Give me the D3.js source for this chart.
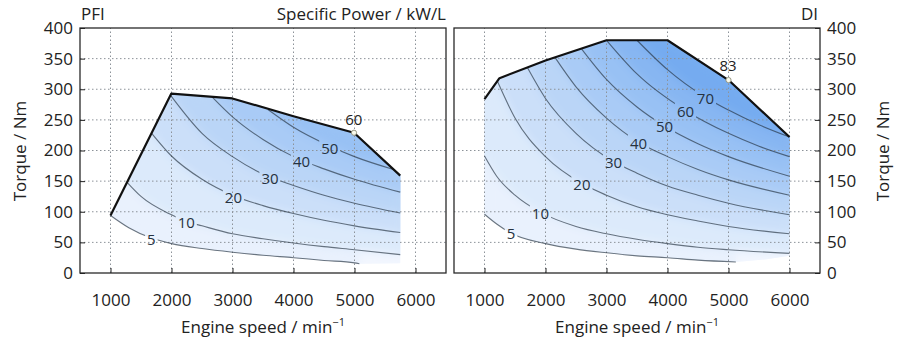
<!DOCTYPE html>
<html>
<head>
<meta charset="utf-8">
<script src="https://cdn.jsdelivr.net/npm/d3@7"></script>
<style>
  body { margin: 0; background: #fff; }
  svg text { font-family: "Open Sans", sans-serif; }
</style>
</head>
<body>
<svg id="chart" width="903" height="344"></svg>
<script>
// shared ticks
const speedTicks = [1000, 2000, 3000, 4000, 5000, 6000];
const torqueTicks = [0, 50, 100, 150, 200, 250, 300, 350, 400];

// PFI: full load curve, lower edge of the map, iso-power lines (kW/L)
const pfiFullLoad = [[1000, 94], [1997, 293], [2998, 285], [4000, 256], [4992, 229], [5750, 159]];
const pfiLowEdge = [[5750, 16]];
const pfiLevels = [5, 10, 20, 30, 40, 50];
const pfiContours = [
  [[1000, 94], [1300, 74], [1670, 57], [2000, 48], [2500, 40], [3000, 34], [3500, 29], [4000, 25], [4500, 20.5], [5000, 16.5], [5080, 15]],
  [[1272, 148], [1500, 125], [2000, 95], [2250, 84], [2500, 77], [3000, 64], [3500, 56], [4000, 49], [4500, 43], [5000, 38], [5750, 30]],
  [[1675, 228], [2000, 191], [2500, 153], [3000, 127], [3500, 110], [4000, 97], [4500, 86], [5000, 77], [5750, 66]],
  [[1985, 290], [2500, 228], [3000, 190], [3600, 157], [4000, 143], [4500, 127], [5000, 114], [5750, 98]],
  [[2660, 288], [3000, 255], [3500, 218], [4000, 190], [4500, 170], [5000, 153], [5750, 132]],
  [[3580, 267], [4000, 238], [4600, 207], [5000, 190], [5640, 169]]
];
const pfiLabelPos = [[1670, 55], [2242, 82], [3015, 123], [3614, 154], [4132, 181], [4595, 203]];
const pfiPeak = [4992, 229, 60];
const pfiPeakLabel = [4987, 251];

// DI
const diFullLoad = [[1000, 284], [1245, 318], [2000, 347], [3000, 380], [4000, 380], [5000, 315], [6000, 222]];
const diLowEdge = [[5600, 22], [6000, 28]];
const diLevels = [5, 10, 20, 30, 40, 50, 60, 70];
const diContours = [
  [[1000, 96], [1200, 80], [1435, 65], [2000, 48], [2500, 39], [3000, 33], [3500, 28], [4000, 25], [4500, 21], [5120, 18]],
  [[1000, 191], [1200, 158], [1500, 127], [1920, 99], [2500, 76], [3000, 64], [3500, 55], [4000, 48], [4500, 42], [5000, 38], [6000, 32]],
  [[1212, 313], [1500, 253], [2000, 190], [2600, 146], [3000, 127], [3500, 108], [4000, 95], [4500, 85], [5000, 76], [6000, 64]],
  [[1705, 335], [2000, 285], [2500, 228], [3115, 182], [3500, 163], [4000, 142], [4500, 127], [5000, 114], [6000, 95]],
  [[2155, 352], [2500, 304], [3000, 253], [3520, 214], [4000, 190], [4500, 169], [5000, 152], [6000, 127]],
  [[2590, 366], [3000, 316], [3500, 271], [3950, 240], [4500, 211], [5000, 190], [6000, 158]],
  [[3000, 380], [3500, 325], [4300, 265], [5000, 228], [5500, 207], [6000, 190]],
  [[3500, 380], [4000, 332], [4620, 287], [5000, 266], [5500, 242], [6000, 222]]
];
const diLabelPos = [[1435, 64.5], [1917, 97], [2597, 143.5], [3116, 180], [3525, 211.6], [3951, 238.7], [4295, 263.2], [4622, 285.1]];
const diPeak = [5000, 315, 83];
const diPeakLabel = [4993, 338];

const svg = d3.select('#chart');
const defs = svg.append('defs');
const yRange = [273, 28];
const color = d3.scaleLinear().domain([0, 85]).range(['#f6f9fe', '#65a2ee']);

// soft blur used to smooth the steps between colour bands
defs.append('filter').attr('id', 'soft').attr('x', '-10%').attr('y', '-10%').attr('width', '120%').attr('height', '120%')
  .append('feGaussianBlur').attr('stdDeviation', 5);

function drawPanel(p) {
  const x = d3.scaleLinear().domain([500, 6500]).range(p.xRange);
  const y = d3.scaleLinear().domain([0, 400]).range(yRange);
  const curve = d3.line().x(d => x(d[0])).y(d => y(d[1])).curve(d3.curveMonotoneX);
  const straight = d3.line().x(d => x(d[0])).y(d => y(d[1]));
  const pts = arr => arr.map(d => 'L' + x(d[0]) + ',' + y(d[1])).join('');
  const g = svg.append('g');

  // polygons: whole map first, then each region above an iso-power line
  const tops = p.levels.slice(1).concat([p.peak[2]]);
  const outline = curve(p.contours[0]) + pts(p.lowEdge.concat(p.fullLoad.slice().reverse())) + 'Z';
  const bands = [{ d: outline, v: p.levels[0] / 2 }];
  p.contours.forEach((c, i) => {
    const s = c[0][0], e = c[c.length - 1][0];
    const edge = p.fullLoad.filter(d => d[0] >= s && d[0] <= e).reverse();
    bands.push({ d: curve(c) + pts(edge) + 'Z', v: (p.levels[i] + tops[i]) / 2 });
  });

  defs.append('clipPath').attr('id', 'map-' + p.name).append('path').attr('d', outline);

  // sharp bands, then a blurred copy clipped to the map on top
  g.append('g').selectAll('path').data(bands).join('path')
    .attr('d', d => d.d).attr('fill', d => color(d.v));
  g.append('g').attr('clip-path', 'url(#map-' + p.name + ')')
    .append('g').attr('filter', 'url(#soft)')
    .selectAll('path').data(bands).join('path')
    .attr('d', d => d.d).attr('fill', d => color(d.v));

  // dotted grid
  const grid = g.append('g').attr('stroke', '#8c9299').attr('stroke-width', 1).attr('stroke-dasharray', '1.5,2.5');
  grid.selectAll('.gx').data(speedTicks).join('line')
    .attr('x1', d => x(d)).attr('x2', d => x(d)).attr('y1', yRange[0]).attr('y2', yRange[1]);
  grid.selectAll('.gy').data(torqueTicks.filter(t => t > 0 && t < 400)).join('line')
    .attr('x1', p.xRange[0]).attr('x2', p.xRange[1]).attr('y1', d => y(d)).attr('y2', d => y(d));

  // contour labels, with gaps cut into the lines by a mask
  const mask = defs.append('mask').attr('id', 'gap-' + p.name)
    .attr('maskUnits', 'userSpaceOnUse').attr('x', 0).attr('y', 0).attr('width', 903).attr('height', 344);
  mask.append('rect').attr('width', 903).attr('height', 344).attr('fill', '#fff');

  const lines = g.append('g').attr('mask', 'url(#gap-' + p.name + ')');
  const labels = g.append('g').attr('font-size', 15).attr('fill', '#26323f').attr('text-anchor', 'middle');
  labels.selectAll('text').data(p.labelPos).join('text')
    .attr('x', d => x(d[0])).attr('y', d => y(d[1])).attr('dy', '0.35em')
    .text((d, i) => p.levels[i])
    .each(function () {
      const b = this.getBBox();
      mask.append('rect').attr('x', b.x - 2).attr('y', b.y + 1).attr('width', b.width + 4).attr('height', b.height - 2).attr('fill', '#000');
    });

  lines.selectAll('path').data(p.contours).join('path')
    .attr('d', curve).attr('fill', 'none')
    .attr('stroke', '#22303e').attr('stroke-opacity', 0.65).attr('stroke-width', 1.1);

  // full load line
  g.append('path').attr('d', straight(p.fullLoad)).attr('fill', 'none')
    .attr('stroke', '#111').attr('stroke-width', 2.2).attr('stroke-linejoin', 'round');

  // frame
  g.append('rect').attr('x', p.xRange[0]).attr('y', yRange[1])
    .attr('width', p.xRange[1] - p.xRange[0]).attr('height', yRange[0] - yRange[1])
    .attr('fill', 'none').attr('stroke', '#2a2a2a').attr('stroke-width', 1.3);

  // rated power point
  g.append('circle').attr('cx', x(p.peak[0])).attr('cy', y(p.peak[1])).attr('r', 2.6)
    .attr('fill', '#fbfbec').attr('stroke', '#8d8d78').attr('stroke-width', 0.9);
  g.append('text').attr('x', x(p.peakLabel[0])).attr('y', y(p.peakLabel[1])).attr('dy', '0.35em')
    .attr('text-anchor', 'middle').attr('font-size', 15).attr('fill', '#222').text(p.peak[2]);

  // axes
  const styleAxis = a => {
    a.select('.domain').remove();
    a.attr('font-family', '"Open Sans", sans-serif').attr('font-size', 17).attr('color', '#222');
  };
  g.append('g').attr('transform', `translate(0,${yRange[0]})`)
    .call(d3.axisBottom(x).tickValues(speedTicks).tickFormat(d3.format('d')).tickSize(-5).tickPadding(21))
    .call(styleAxis);
  if (p.side === 'left') {
    g.append('g').attr('transform', `translate(${p.xRange[0]},0)`)
      .call(d3.axisLeft(y).tickValues(torqueTicks).tickSize(-5).tickPadding(7))
      .call(styleAxis);
  } else {
    g.append('g').attr('transform', `translate(${p.xRange[1]},0)`)
      .call(d3.axisRight(y).tickValues(torqueTicks).tickSize(-5).tickPadding(7))
      .call(styleAxis);
  }

  // axis titles
  const cx = (p.xRange[0] + p.xRange[1]) / 2;
  const xt = g.append('text').attr('x', cx).attr('y', 333).attr('text-anchor', 'middle')
    .attr('font-size', 17).attr('fill', '#222');
  xt.append('tspan').text('Engine speed / min');
  xt.append('tspan').attr('font-size', 11).attr('dy', -7).text('\u22121');
  const ty = p.side === 'left' ? 26 : 889;
  g.append('text').attr('transform', `translate(${ty},151) rotate(-90)`).attr('text-anchor', 'middle')
    .attr('font-size', 17).attr('fill', '#222').text('Torque / Nm');
}

drawPanel({
  name: 'pfi', side: 'left', xRange: [80, 446],
  fullLoad: pfiFullLoad, lowEdge: pfiLowEdge, levels: pfiLevels, contours: pfiContours,
  labelPos: pfiLabelPos, peak: pfiPeak, peakLabel: pfiPeakLabel
});
drawPanel({
  name: 'di', side: 'right', xRange: [454, 820],
  fullLoad: diFullLoad, lowEdge: diLowEdge, levels: diLevels, contours: diContours,
  labelPos: diLabelPos, peak: diPeak, peakLabel: diPeakLabel
});

// panel titles
svg.append('text').attr('x', 81).attr('y', 19.5).attr('font-size', 17).attr('fill', '#222').text('PFI');
svg.append('text').attr('x', 446).attr('y', 19.5).attr('font-size', 17).attr('fill', '#222')
  .attr('text-anchor', 'end').text('Specific Power / kW/L');
svg.append('text').attr('x', 818).attr('y', 19.5).attr('font-size', 17).attr('fill', '#222')
  .attr('text-anchor', 'end').text('DI');
</script>
</body>
</html>
